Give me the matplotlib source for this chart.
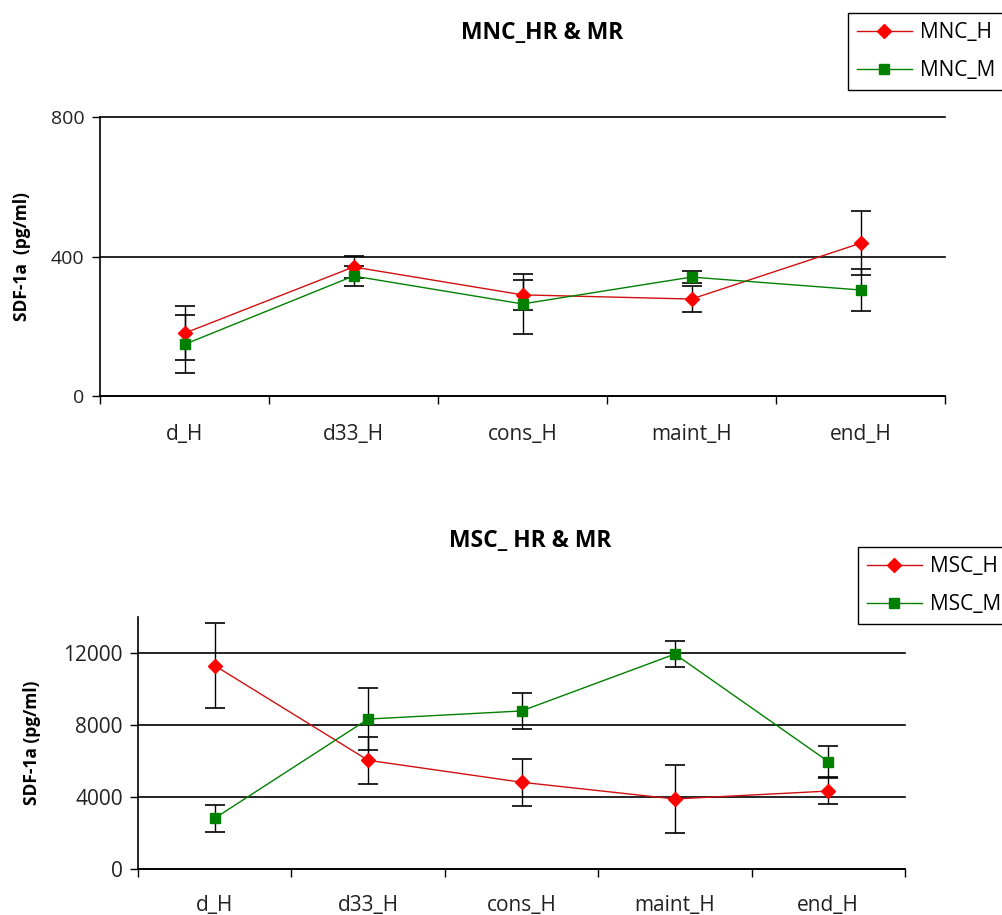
import numpy as np
import matplotlib
import matplotlib.pyplot as plt
from matplotlib.ticker import FixedLocator, NullFormatter

matplotlib.rcParams['font.family'] = ['Open Sans', 'DejaVu Sans']

categories = ['d_H', 'd33_H', 'cons_H', 'maint_H', 'end_H']

# top chart: MNC
mnc_h = [180, 370, 290, 278, 438]
mnc_h_err = [78, 32, 42, 37, 92]
mnc_m = [148, 344, 264, 341, 304]
mnc_m_err = [83, 30, 86, 18, 60]

# bottom chart: MSC
msc_h = [11300, 6040, 4820, 3890, 4330]
msc_h_err = [2360, 1320, 1310, 1890, 740]
msc_m = [2820, 8330, 8780, 11940, 5970]
msc_m_err = [760, 1700, 1000, 700, 880]

RED = '#ff0000'
REDLINE = '#d01010'
GREEN = '#008000'

W, H = 1003, 915
fig = plt.figure(figsize=(W / 100, H / 100), dpi=100)


def draw_panel(ax, h, h_err, m, m_err, ymax, yticks, lab_h, lab_m, ylabel,
               ylab_x, xpad, ysize, leg_anchor):
    x = np.arange(1, len(categories) + 1)
    ax.errorbar(x, h, yerr=h_err, fmt='none', ecolor='black', elinewidth=1,
                capsize=7, capthick=1.2, zorder=2)
    ax.errorbar(x, m, yerr=m_err, fmt='none', ecolor='black', elinewidth=1,
                capsize=7, capthick=1.2, zorder=2)
    line_h, = ax.plot(x, h, color=REDLINE, lw=1, marker='D', ms=7, mfc=RED, mec=RED,
                      label=lab_h, zorder=3)
    line_m, = ax.plot(x, m, color=GREEN, lw=1, marker='s', ms=7.5, mfc=GREEN, mec=GREEN,
                      label=lab_m, zorder=3)

    ax.set_xlim(0.5, len(categories) + 0.5)
    ax.set_ylim(0, ymax)
    ax.set_yticks(yticks)
    ax.yaxis.grid(True, color='black', lw=1.2)
    ax.set_axisbelow(True)
    for g in ax.get_ygridlines():
        g.set_clip_on(False)

    ax.xaxis.set_major_locator(FixedLocator(np.arange(0.5, len(categories) + 1, 1)))
    ax.xaxis.set_major_formatter(NullFormatter())
    ax.xaxis.set_minor_locator(FixedLocator(x))
    ax.set_xticklabels(categories, minor=True)
    ax.tick_params(axis='x', which='major', direction='out', length=6, width=1)
    ax.tick_params(axis='x', which='minor', length=0, pad=xpad, labelsize=15,
                   labelcolor='#222222')
    ax.tick_params(axis='y', direction='out', length=6, width=1, labelsize=ysize,
                   pad=5, labelcolor='#222222')

    for s in ['top', 'right']:
        ax.spines[s].set_visible(False)
    ax.spines['left'].set_linewidth(1.2)
    ax.spines['bottom'].set_linewidth(1.2)

    ax.set_ylabel(ylabel, fontsize=12.5, fontweight='bold', va='center')
    ax.yaxis.set_label_coords(ylab_x, 0.5)
    leg = fig.legend(handles=[line_h, line_m], loc='upper left', bbox_to_anchor=leg_anchor,
                     fontsize=15, handlelength=2.6, handletextpad=0.4,
                     labelspacing=0.8, borderpad=0.45, borderaxespad=0,
                     fancybox=False, edgecolor='black', framealpha=1)
    leg.get_frame().set_linewidth(1)
    return leg


ax1 = fig.add_axes([100 / W, 1 - 396 / H, 845 / W, 279 / H])
draw_panel(ax1, mnc_h, mnc_h_err, mnc_m, mnc_m_err, 800, [0, 400, 800],
           'MNC_H', 'MNC_M', 'SDF-1a  (pg/ml)', (22 - 100) / 845, 20, 14,
           (848 / W, 1 - 13 / H))
fig.text(542 / W, 1 - 33 / H, 'MNC_HR & MR', ha='center', va='center',
         fontsize=16.5, fontweight='bold')

ax2 = fig.add_axes([138 / W, 1 - 869 / H, 767 / W, 252 / H])
draw_panel(ax2, msc_h, msc_h_err, msc_m, msc_m_err, 14000, [0, 4000, 8000, 12000],
           'MSC_H', 'MSC_M', 'SDF-1a (pg/ml)', (32 - 138) / 767, 19, 15,
           (858 / W, 1 - 547 / H))
fig.text(530 / W, 1 - 541 / H, 'MSC_ HR & MR', ha='center', va='center',
         fontsize=16.5, fontweight='bold')

fig.savefig('out.png', dpi=100)
